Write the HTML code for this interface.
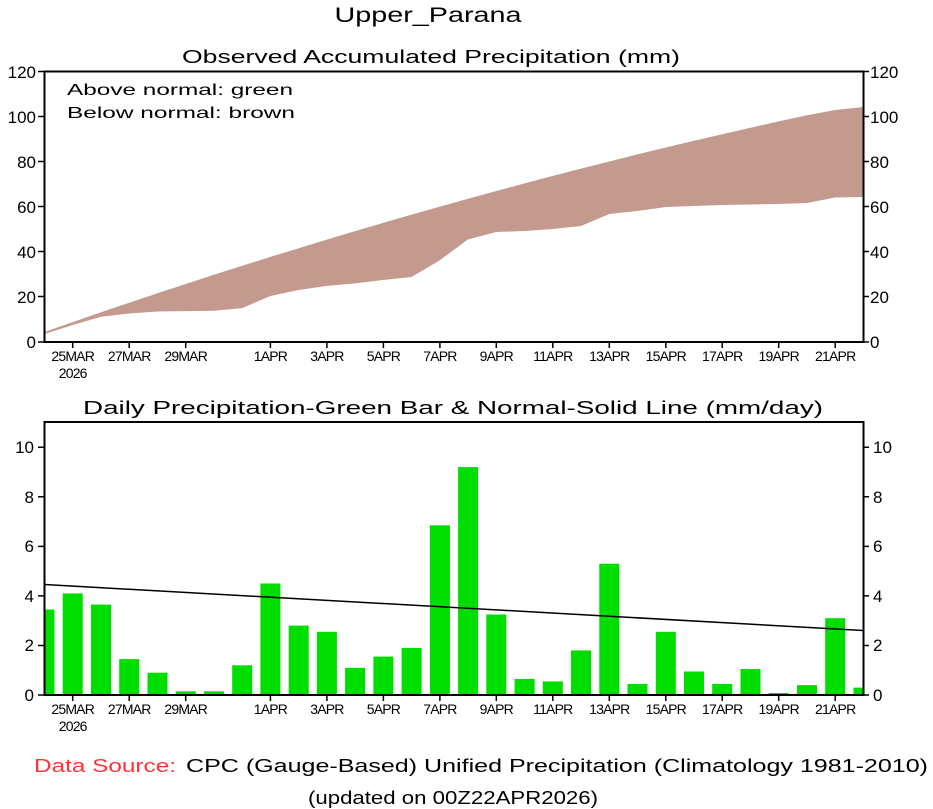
<!DOCTYPE html>
<html><head><meta charset="utf-8"><style>body{margin:0;background:#fff}svg{display:block}text{font-family:"Liberation Sans",sans-serif;fill:#000}</style></head><body>
<svg width="933" height="809" xmlns="http://www.w3.org/2000/svg">
<text x="428" y="22" font-size="21" text-anchor="middle" textLength="187" lengthAdjust="spacingAndGlyphs">Upper_Parana</text>
<text x="431" y="63" font-size="18" text-anchor="middle" textLength="498" lengthAdjust="spacingAndGlyphs">Observed Accumulated Precipitation (mm)</text>
<polygon fill="#c49a8e" points="44.5,332 72.7,322.1 101,312.3 129.2,302.7 157.5,293.3 185.7,284 213.9,274.8 242.2,265.8 270.4,256.9 298.7,248.2 326.9,239.6 355.1,231.1 383.4,222.8 411.6,214.6 439.9,206.6 468.1,198.7 496.3,191 524.6,183.4 552.8,175.9 581,168.6 609.3,161.5 637.5,154.4 665.8,147.5 694,140.8 722.2,134.2 750.5,127.7 778.7,121.4 807,115.2 835.2,110 863.5,107 863.5,197 835.2,197.5 807,203 778.7,204 750.5,204.5 722.2,205 694,206 665.8,207 637.5,211 609.3,214 581,226 552.8,229 524.6,231 496.3,232 468.1,239.4 439.9,260.2 411.6,277 383.4,280 355.1,283.4 326.9,285.9 298.7,290 270.4,296 242.2,308.1 213.9,310.8 185.7,311.1 157.5,311.5 129.2,313.5 101,316.8 72.7,325 44.5,334"/>
<rect x="44.5" y="71.5" width="819" height="270.5" fill="none" stroke="#000" stroke-width="2"/>
<g font-size="16">
<text x="67" y="95" textLength="226" lengthAdjust="spacingAndGlyphs">Above normal: green</text>
<text x="67" y="118" textLength="228" lengthAdjust="spacingAndGlyphs">Below normal: brown</text>
</g>
<g font-size="17" text-anchor="end">
<text x="36" y="78">120</text><text x="36" y="123">100</text><text x="36" y="168">80</text><text x="36" y="213">60</text><text x="36" y="258">40</text><text x="36" y="303">20</text><text x="36" y="348">0</text>
</g>
<g font-size="17">
<text x="870" y="78">120</text><text x="870" y="123">100</text><text x="870" y="168">80</text><text x="870" y="213">60</text><text x="870" y="258">40</text><text x="870" y="303">20</text><text x="870" y="348">0</text>
</g>
<g stroke="#000" stroke-width="1.5">
<path d="M38,71.5h6M38,116.5h6M38,161.5h6M38,206.5h6M38,251.5h6M38,296.5h6M38,342h6"/>
<path d="M863,71.5h6M863,116.5h6M863,161.5h6M863,206.5h6M863,251.5h6M863,296.5h6M863,342h6"/>
<path d="M72.7,342v6M129.2,342v6M185.7,342v6M270.4,342v6M326.9,342v6M383.4,342v6M439.9,342v6M496.3,342v6M552.8,342v6M609.3,342v6M665.8,342v6M722.2,342v6M778.7,342v6M835.2,342v6"/>
</g>
<g font-size="14" text-anchor="middle" letter-spacing="-0.8">
<text x="72.7" y="361">25MAR</text><text x="72.7" y="378">2026</text><text x="129.2" y="361">27MAR</text><text x="185.7" y="361">29MAR</text><text x="270.4" y="361">1APR</text><text x="326.9" y="361">3APR</text><text x="383.4" y="361">5APR</text><text x="439.9" y="361">7APR</text><text x="496.3" y="361">9APR</text><text x="552.8" y="361">11APR</text><text x="609.3" y="361">13APR</text><text x="665.8" y="361">15APR</text><text x="722.2" y="361">17APR</text><text x="778.7" y="361">19APR</text><text x="835.2" y="361">21APR</text>
</g>

<text x="453" y="414" font-size="18" text-anchor="middle" textLength="740" lengthAdjust="spacingAndGlyphs">Daily Precipitation-Green Bar &amp; Normal-Solid Line (mm/day)</text>
<g fill="#00dd00">
<rect x="44.5" y="609.5" width="10" height="85.5"/>
<rect x="62.7" y="593.4" width="20" height="101.6"/>
<rect x="91" y="604.6" width="20" height="90.4"/>
<rect x="119.2" y="659.1" width="20" height="35.9"/>
<rect x="147.5" y="672.7" width="20" height="22.3"/>
<rect x="175.7" y="691.3" width="20" height="3.7"/>
<rect x="203.9" y="691.3" width="20" height="3.7"/>
<rect x="232.2" y="665.3" width="20" height="29.7"/>
<rect x="260.4" y="583.5" width="20" height="111.5"/>
<rect x="288.7" y="625.6" width="20" height="69.4"/>
<rect x="316.9" y="631.8" width="20" height="63.2"/>
<rect x="345.1" y="667.8" width="20" height="27.2"/>
<rect x="373.4" y="656.6" width="20" height="38.4"/>
<rect x="401.6" y="647.9" width="20" height="47.1"/>
<rect x="429.9" y="525.3" width="20" height="169.7"/>
<rect x="458.1" y="467.1" width="20" height="227.9"/>
<rect x="486.3" y="614.5" width="20" height="80.5"/>
<rect x="514.6" y="678.9" width="20" height="16.1"/>
<rect x="542.8" y="681.4" width="20" height="13.6"/>
<rect x="571" y="650.4" width="20" height="44.6"/>
<rect x="599.3" y="563.7" width="20" height="131.3"/>
<rect x="627.5" y="683.9" width="20" height="11.1"/>
<rect x="655.8" y="631.8" width="20" height="63.2"/>
<rect x="684" y="671.5" width="20" height="23.5"/>
<rect x="712.2" y="683.9" width="20" height="11.1"/>
<rect x="740.5" y="669" width="20" height="26"/>
<rect x="768.7" y="693" width="20" height="2"/>
<rect x="797" y="685.1" width="20" height="9.9"/>
<rect x="825.2" y="618.2" width="20" height="76.8"/>
<rect x="853.5" y="687.6" width="9.5" height="7.4"/>
</g>
<line x1="44.5" y1="584.5" x2="863" y2="630.5" stroke="#000" stroke-width="1.5"/>
<rect x="44.5" y="422" width="819" height="273" fill="none" stroke="#000" stroke-width="2"/>
<g font-size="17" text-anchor="end">
<text x="34" y="453">10</text><text x="34" y="503">8</text><text x="34" y="552">6</text><text x="34" y="602">4</text><text x="34" y="651">2</text><text x="34" y="701">0</text>
</g>
<g font-size="17">
<text x="873" y="453">10</text><text x="873" y="503">8</text><text x="873" y="552">6</text><text x="873" y="602">4</text><text x="873" y="651">2</text><text x="873" y="701">0</text>
</g>
<g stroke="#000" stroke-width="1.5">
<path d="M38,447.3h6M38,496.8h6M38,546.4h6M38,595.9h6M38,645.5h6M38,695h6"/>
<path d="M863,447.3h6M863,496.8h6M863,546.4h6M863,595.9h6M863,645.5h6M863,695h6"/>
<path d="M72.7,695v6M129.2,695v6M185.7,695v6M270.4,695v6M326.9,695v6M383.4,695v6M439.9,695v6M496.3,695v6M552.8,695v6M609.3,695v6M665.8,695v6M722.2,695v6M778.7,695v6M835.2,695v6"/>
</g>
<g font-size="14" text-anchor="middle" letter-spacing="-0.8">
<text x="72.7" y="714">25MAR</text><text x="72.7" y="731">2026</text><text x="129.2" y="714">27MAR</text><text x="185.7" y="714">29MAR</text><text x="270.4" y="714">1APR</text><text x="326.9" y="714">3APR</text><text x="383.4" y="714">5APR</text><text x="439.9" y="714">7APR</text><text x="496.3" y="714">9APR</text><text x="552.8" y="714">11APR</text><text x="609.3" y="714">13APR</text><text x="665.8" y="714">15APR</text><text x="722.2" y="714">17APR</text><text x="778.7" y="714">19APR</text><text x="835.2" y="714">21APR</text>
</g>
<text x="34" y="772" font-size="18" style="fill:#ff3333" textLength="142" lengthAdjust="spacingAndGlyphs">Data Source:</text>
<text x="186" y="772" font-size="18" textLength="742" lengthAdjust="spacingAndGlyphs">CPC (Gauge-Based) Unified Precipitation (Climatology 1981-2010)</text>
<text x="453" y="804" font-size="18" text-anchor="middle" textLength="290" lengthAdjust="spacingAndGlyphs">(updated on 00Z22APR2026)</text>
</svg>
</body></html>
